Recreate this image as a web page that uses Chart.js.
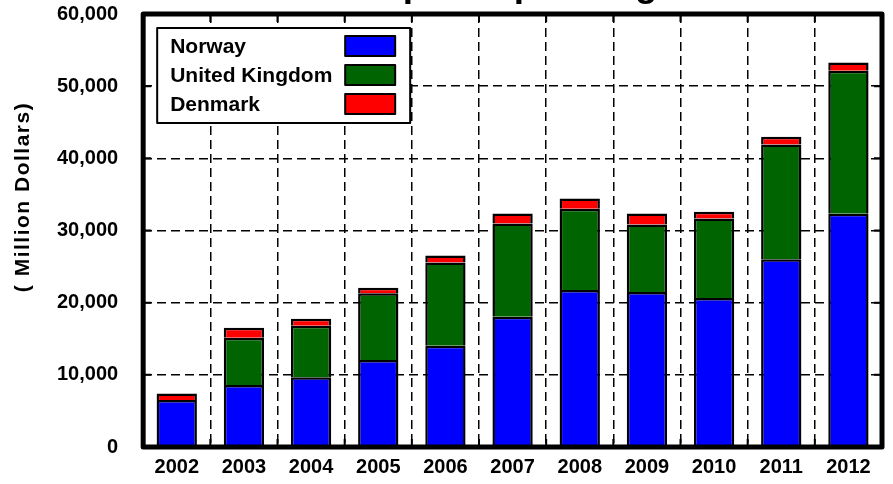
<!DOCTYPE html>
<html>
<head>
    <title>Capital Spending</title>
    <script src="https://cdn.jsdelivr.net/npm/chart.js"></script>
    <style>
        body {
            margin: 0;
            padding: 0;
            background: #fff;
            overflow: hidden;
        }
        #wrap {
            width: 893px;
            height: 484px;
        }
    </style>
</head>
<body>
    <div id="wrap">
        <canvas id="spendChart" width="893" height="484"></canvas>
    </div>

    <script>
        const years = ['2002', '2003', '2004', '2005', '2006', '2007', '2008', '2009', '2010', '2011', '2012'];
        const norway = [6500, 8600, 9650, 12050, 14030, 18050, 21750, 21470, 20640, 26000, 32310];
        const unitedKingdom = [null, 6550, 7150, 9240, 11550, 12930, 11260, 9370, 11030, 15920, 19810];
        const denmark = [920, 1380, 970, 770, 970, 1380, 1430, 1520, 920, 1060, 1160];
        const yTicks = [0, 10000, 20000, 30000, 40000, 50000, 60000];

        const FONT = "'Liberation Sans', Arial, sans-serif";

        // frame, inner tick marks, legend and titles
        const framePlugin = {
            id: 'frame',
            afterDraw(chart) {
                const ctx = chart.ctx;
                const a = chart.chartArea;
                const xs = chart.scales.x;
                const ys = chart.scales.y;
                ctx.save();

                // short solid ticks pointing inward
                ctx.strokeStyle = '#000';
                ctx.lineWidth = 2;
                ctx.beginPath();
                yTicks.slice(1, -1).forEach(v => {
                    const py = ys.getPixelForValue(v);
                    ctx.moveTo(a.left, py); ctx.lineTo(a.left + 8, py);
                    ctx.moveTo(a.right, py); ctx.lineTo(a.right - 8, py);
                });
                for (let i = 1; i < years.length; i++) {
                    const px = (xs.getPixelForValue(i - 1) + xs.getPixelForValue(i)) / 2;
                    ctx.moveTo(px, a.top); ctx.lineTo(px, a.top + 8);
                    ctx.moveTo(px, a.bottom); ctx.lineTo(px, a.bottom - 8);
                }
                ctx.stroke();

                // heavy frame
                ctx.lineWidth = 5;
                ctx.lineJoin = 'round';
                ctx.strokeRect(a.left, a.top, a.right - a.left, a.bottom - a.top);

                // legend: text left, swatch right
                const lx = a.left + 14, ly = a.top + 14, lw = 253, lh = 95;
                ctx.fillStyle = '#fff';
                ctx.fillRect(lx, ly, lw, lh);
                ctx.lineWidth = 2;
                ctx.strokeRect(lx, ly, lw, lh);
                ctx.font = 'bold 21px ' + FONT;
                ctx.textBaseline = 'middle';
                ctx.textAlign = 'left';
                chart.data.datasets.forEach((ds, i) => {
                    const cy = ly + 18 + i * 29;
                    ctx.fillStyle = '#000';
                    ctx.fillText(ds.label, lx + 13, cy + 1);
                    ctx.fillStyle = ds.backgroundColor;
                    ctx.fillRect(lx + 188, cy - 10, 50, 20);
                    ctx.strokeRect(lx + 188, cy - 10, 50, 20);
                });

                // chart title, mostly above the visible page
                ctx.fillStyle = '#000';
                ctx.font = 'bold 37px ' + FONT;
                ctx.textAlign = 'center';
                ctx.textBaseline = 'alphabetic';
                ctx.fillText('Capital Spending', (a.left + a.right) / 2 - 6, -4);

                // y axis title
                ctx.font = 'bold 21px ' + FONT;
                ctx.letterSpacing = '1.5px';
                ctx.translate(23, 197);
                ctx.rotate(-Math.PI / 2);
                ctx.textBaseline = 'middle';
                ctx.fillText('( Million Dollars)', 0, 0);
                ctx.restore();
            }
        };

        const barStyle = {
            borderColor: '#000',
            borderWidth: 2.5,
            barPercentage: 0.6,
            categoryPercentage: 1.0
        };

        new Chart(document.getElementById('spendChart'), {
            type: 'bar',
            data: {
                labels: years,
                datasets: [
                    Object.assign({ label: 'Norway', data: norway, backgroundColor: '#0000ff' }, barStyle),
                    Object.assign({ label: 'United Kingdom', data: unitedKingdom, backgroundColor: '#006400' }, barStyle),
                    Object.assign({ label: 'Denmark', data: denmark, backgroundColor: '#ff0000' }, barStyle)
                ]
            },
            options: {
                responsive: false,
                animation: false,
                layout: { padding: { left: 32, right: 11, top: 14, bottom: 5 } },
                plugins: {
                    legend: { display: false },
                    title: { display: false },
                    tooltip: { enabled: false }
                },
                scales: {
                    x: {
                        stacked: true,
                        grid: { color: '#000', lineWidth: 1.5, drawTicks: false, offset: true },
                        border: { display: false, dash: [9, 5] },
                        ticks: { color: '#000', padding: 8, font: { family: FONT, size: 20, weight: 'bold' } },
                        afterFit(s) { s.paddingLeft = 0; s.paddingRight = 0; s.height = 32; }
                    },
                    y: {
                        stacked: true,
                        min: 0,
                        max: 60000,
                        grid: { color: '#000', lineWidth: 1.5, drawTicks: false },
                        border: { display: false, dash: [9, 5] },
                        ticks: {
                            stepSize: 10000,
                            color: '#000',
                            padding: 25,
                            font: { family: FONT, size: 20, weight: 'bold' },
                            callback: v => v.toLocaleString('en-US')
                        },
                        afterFit(s) { s.paddingTop = 0; s.paddingBottom = 0; }
                    }
                }
            },
            plugins: [framePlugin]
        });
    </script>
</body>
</html>
